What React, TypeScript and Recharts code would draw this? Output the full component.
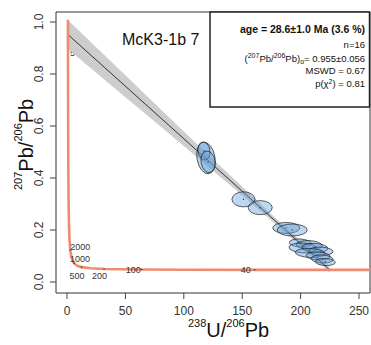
import React from 'react';
import { ComposedChart, XAxis, YAxis, Area, Line, Scatter, ReferenceArea } from 'recharts';

const xTicks = [0, 50, 100, 150, 200, 250];
const yTicks = [0, 0.2, 0.4, 0.6, 0.8, 1.0];

// concordia curve
const concordiaX = [0.795, 0.806, 0.829, 0.853, 0.99, 1.163, 1.387, 1.687, 2.111, 2.749, 4.0, 5.959, 8.5, 12.4, 20, 31.73, 45, 63.97, 100, 160.7, 200, 262];
const concordiaY = [1.009, 0.974, 0.907, 0.846, 0.597, 0.425, 0.306, 0.223, 0.164, 0.123, 0.0906, 0.0725, 0.0633, 0.0572, 0.0527, 0.0501, 0.0489, 0.048, 0.0473, 0.0468, 0.0467, 0.0465];

// age ticks on the concordia (Ma)
const ageLabels = ['5000', '2000', '1000', '500', '200', '100', '40'];
const ageX = [0.853, 2.749, 5.959, 12.4, 31.73, 63.97, 160.7];
const ageY = [0.846, 0.123, 0.0725, 0.0572, 0.0501, 0.048, 0.0468];

// regression line and its error envelope
const fitX = [0, 224.9];
const fitY = [0.955, 0.0466];
const bandX = [0, 25, 50, 75, 100, 125, 150, 175, 200, 224.9];
const bandLo = [0.899, 0.805, 0.711, 0.617, 0.523, 0.428, 0.334, 0.237, 0.138, 0.037];
const bandHi = [1.011, 0.903, 0.795, 0.687, 0.579, 0.472, 0.366, 0.261, 0.158, 0.057];

// analyses: centres, semi-axes, tilt
const spotX = [119.0, 117.3, 120.8, 151.1, 165.4, 187.7, 192.8, 199.7, 207.4, 202.1, 212.3, 217.5, 208.2, 215.0, 218.5, 221.1];
const spotY = [0.477, 0.504, 0.462, 0.318, 0.286, 0.208, 0.2, 0.15, 0.142, 0.131, 0.131, 0.119, 0.1115, 0.1, 0.0885, 0.077];
const spotSx = [7.7, 5.1, 6.0, 9.9, 10.3, 11.6, 12.9, 9.4, 11.1, 12.0, 11.1, 10.3, 12.8, 10.3, 9.4, 8.6];
const spotSy = [0.0615, 0.035, 0.042, 0.029, 0.027, 0.021, 0.023, 0.0154, 0.0173, 0.019, 0.0173, 0.0154, 0.0173, 0.0154, 0.0154, 0.0135];
const spotTilt = [-10, -10, -10, 0, 0, 0, 0, 3, 3, 3, 3, 3, 3, 3, 3, 3];

const X_MIN = -9.42;
const X_MAX = 259.4;
const Y_MIN = -0.0423;
const Y_MAX = 1.0385;
const PLOT_W = 314;
const PLOT_H = 281;
const KX = PLOT_W / (X_MAX - X_MIN);
const KY = PLOT_H / (Y_MAX - Y_MIN);

const FONT = '"Liberation Sans", Arial, sans-serif';

const concordia = concordiaX.map((x, i) => ({ x, y: concordiaY[i] }));
const ages = ageLabels.map((label, i) => ({ x: ageX[i], y: ageY[i], label }));
const hiddenAges = ages.filter((a) => a.label === '5000');
const shownAges = ages.filter((a) => a.label !== '5000');
const fit = fitX.map((x, i) => ({ x, y: fitY[i] }));
const band = bandX.map((x, i) => ({ x, range: [bandLo[i], bandHi[i]] }));
const spots = spotX.map((x, i) => ({ x, y: spotY[i], sx: spotSx[i], sy: spotSy[i], tilt: spotTilt[i] }));

const labelPos: Record<string, { dx: number; dy: number; anchor: string }> = {
  '5000': { dx: 2, dy: -9, anchor: 'start' },
  '2000': { dx: 0, dy: -3, anchor: 'start' },
  '1000': { dx: -4, dy: -4, anchor: 'start' },
  '500': { dx: 3, dy: 9, anchor: 'end' },
  '200': { dx: 3, dy: 7, anchor: 'end' },
  '100': { dx: -1, dy: 0, anchor: 'end' },
  '40': { dx: -4, dy: 0, anchor: 'end' },
};

const YTick = (props: any) => {
  const { x, y, payload } = props;
  return (
    <text x={x} y={y} transform={`rotate(-90, ${x}, ${y})`} textAnchor="middle" fontSize={12} fill="#333" fontFamily={FONT}>
      {Number(payload.value).toFixed(1)}
    </text>
  );
};

const XTick = (props: any) => {
  const { x, y, payload } = props;
  return (
    <text x={x} y={y} dy={9} textAnchor="middle" fontSize={12} fill="#333" fontFamily={FONT}>
      {payload.value}
    </text>
  );
};

const AgeMark = (props: any) => {
  const { cx, cy, payload } = props;
  const p = labelPos[payload.label];
  return (
    <g>
      <circle cx={cx} cy={cy} r={0.8} fill="#444" />
      <text x={cx + p.dx} y={cy + p.dy} textAnchor={p.anchor} dominantBaseline="central" fontSize={9} fill="#333" fontFamily={FONT}>
        {payload.label}
      </text>
    </g>
  );
};

const Ellipse = (props: any) => {
  const { cx, cy, payload } = props;
  return (
    <g>
      <ellipse
        cx={cx}
        cy={cy}
        rx={payload.sx * KX}
        ry={payload.sy * KY}
        transform={`rotate(${payload.tilt}, ${cx}, ${cy})`}
        fill="rgb(100,160,220)"
        fillOpacity={0.42}
        stroke="#222"
        strokeWidth={0.7}
      />
      <circle cx={cx} cy={cy} r={0.7} fill="#333" />
    </g>
  );
};

export default function App() {
  return (
    <div style={{ position: 'absolute', left: 0, top: 0, width: 371, height: 345, background: '#fff' }}>
      <ComposedChart width={371} height={345} margin={{ top: 12, right: 1, bottom: 0, left: 0 }}>
        <XAxis
          dataKey="x"
          type="number"
          domain={[X_MIN, X_MAX]}
          ticks={xTicks}
          allowDataOverflow
          axisLine={false}
          tickLine={{ stroke: '#444' }}
          tickSize={6}
          tickMargin={7}
          tick={<XTick />}
          height={52}
        />
        <YAxis
          type="number"
          domain={[Y_MIN, Y_MAX]}
          ticks={yTicks}
          allowDataOverflow
          axisLine={false}
          tickLine={{ stroke: '#444' }}
          tickSize={6}
          tickMargin={7}
          tick={<YTick />}
          width={56}
        />
        <Scatter data={hiddenAges} dataKey="y" shape={<AgeMark />} zIndex={10} isAnimationActive={false} />
        <Area data={band} dataKey="range" type="linear" stroke="none" fill="#cdcdcd" fillOpacity={1} zIndex={20} isAnimationActive={false} />
        <Line data={fit} dataKey="y" type="linear" stroke="#333" strokeWidth={1} dot={false} isAnimationActive={false} />
        <Line data={concordia} dataKey="y" type="linear" stroke="#EE8C70" strokeWidth={2.6} dot={false} isAnimationActive={false} />
        <Scatter data={shownAges} dataKey="y" shape={<AgeMark />} isAnimationActive={false} />
        <Scatter data={spots} dataKey="y" shape={<Ellipse />} isAnimationActive={false} />
        <ReferenceArea x1={X_MIN} x2={X_MAX} y1={Y_MIN} y2={Y_MAX} fill="none" stroke="#333" strokeWidth={1} />
      </ComposedChart>
      <svg width={371} height={345} style={{ position: 'absolute', left: 0, top: 0, pointerEvents: 'none' }} fontFamily={FONT}>
        <text x={122} y={45} fontSize={16} fill="#111">McK3-1b 7</text>
        <rect x={210} y={12} width={159.5} height={95} fill="#fff" stroke="#222" strokeWidth={1.5} />
        <g fontSize={9.5} fill="#111" textAnchor="end">
          <text x={365} y={32.5} fontWeight="bold" fontSize={10.5}>age = 28.6±1.0 Ma (3.6 %)</text>
          <text x={365} y={48.3}>n=16</text>
          <text x={365} y={61.7}>
            (<tspan dy={-3.5} fontSize={7}>207</tspan>
            <tspan dy={3.5}>Pb/</tspan>
            <tspan dy={-3.5} fontSize={7}>206</tspan>
            <tspan dy={3.5}>Pb)</tspan>
            <tspan dy={2.5} fontSize={7}>o</tspan>
            <tspan dy={-2.5}>= 0.955±0.056</tspan>
          </text>
          <text x={365} y={74}>MSWD = 0.67</text>
          <text x={365} y={87}>
            p(χ<tspan dy={-3.5} fontSize={7}>2</tspan>
            <tspan dy={3.5}>) = 0.81</tspan>
          </text>
        </g>
        <text x={188} y={337} fontSize={20} fill="#111">
          <tspan dy={-10} fontSize={11}>238</tspan>
          <tspan dy={10}>U/</tspan>
          <tspan dy={-10} fontSize={11}>206</tspan>
          <tspan dy={10}>Pb</tspan>
        </text>
        <text x={0} y={0} fontSize={20} fill="#111" transform="translate(33, 190) rotate(-90)">
          <tspan dy={-11} fontSize={11}>207</tspan>
          <tspan dy={11}>Pb/</tspan>
          <tspan dy={-11} fontSize={11}>206</tspan>
          <tspan dy={11}>Pb</tspan>
        </text>
      </svg>
    </div>
  );
}
